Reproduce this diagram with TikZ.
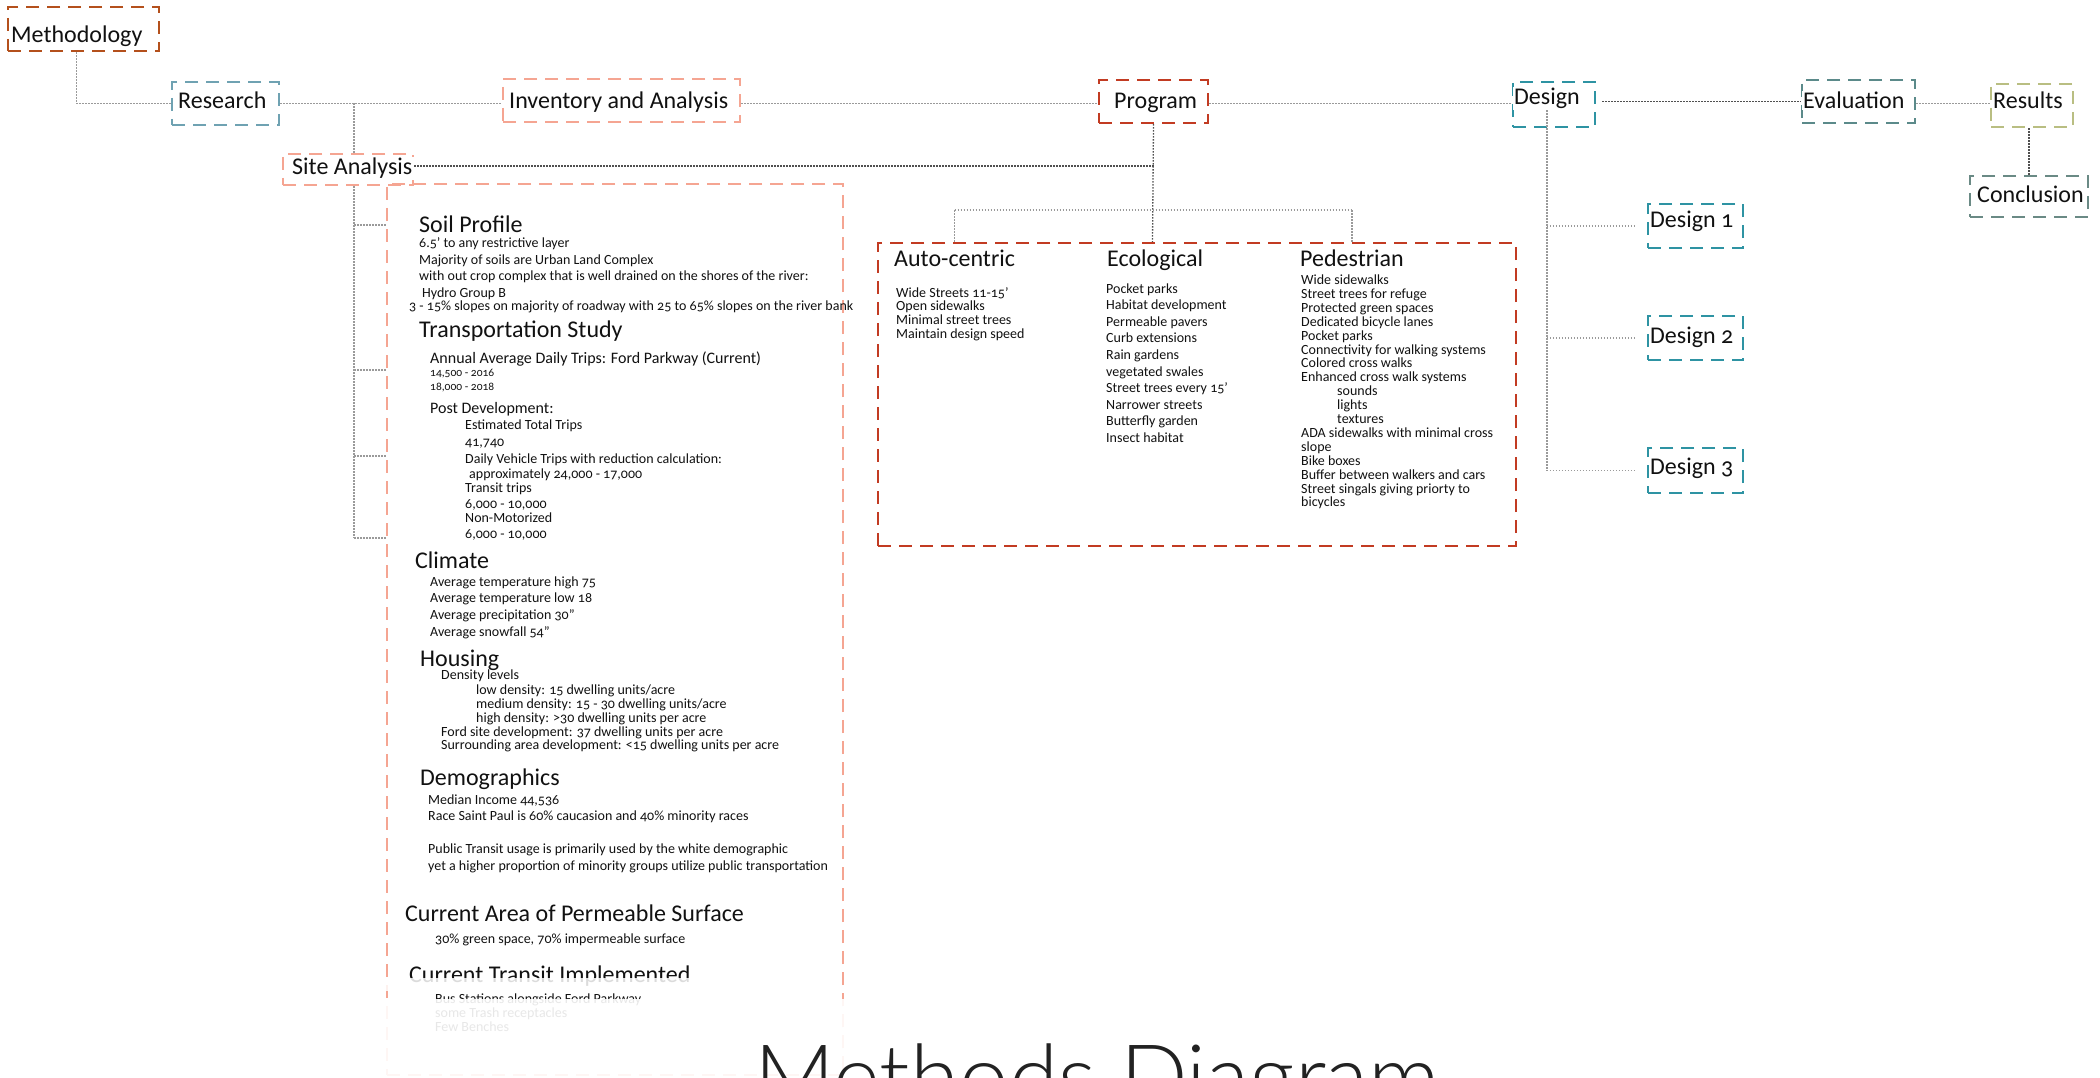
\documentclass[tikz,border=0pt]{standalone}
\usepackage{fontspec}
\setmainfont{Carlito}[Numbers=OldStyle]
\newfontfamily\titlefont{Lato Light}
\usetikzlibrary{calc}

\definecolor{methC}{HTML}{B4501C}
\definecolor{researchC}{HTML}{6FA2B2}
\definecolor{salmonC}{HTML}{F5A592}
\definecolor{progC}{HTML}{C23B22}
\definecolor{designC}{HTML}{2E93A3}
\definecolor{evalC}{HTML}{5B8A8A}
\definecolor{resultsC}{HTML}{B9BE82}
\definecolor{conclC}{HTML}{6A8A85}
\definecolor{lineC}{HTML}{9A9A9A}
\definecolor{darkC}{HTML}{505050}
\definecolor{ink}{HTML}{111111}
\definecolor{titleC}{HTML}{222222}

\begin{document}
\begin{tikzpicture}[x=1pt,y=-1pt,
  box/.style={draw=#1, line width=2.2pt, dash pattern=on 13pt off 8pt, rectangle, inner sep=0pt},
  lbl/.style={anchor=base west, inner xsep=1.5pt, inner ysep=1pt, fill=white, text=ink,
              font=\fontsize{24}{24}\selectfont},
  head/.style={anchor=base west, inner sep=0pt, text=ink, font=\fontsize{24}{24}\selectfont},
  body/.style={anchor=base west, inner sep=0pt, text=ink, font=\fontsize{14}{14}\selectfont},
  mid/.style={body, font=\fontsize{16}{16}\selectfont},
  small/.style={body, font=\fontsize{11.5}{11.5}\selectfont},
  conn/.style={draw=lineC, line width=1.3pt, dash pattern=on 1.5pt off 1.5pt},
  darkconn/.style={conn, draw=darkC},
]
\useasboundingbox (0,0) rectangle (2100,1078);
\fill[white] (0,0) rectangle (2100,1078);

% ---------- boxes ----------
\node[box=methC,     minimum width=151pt, minimum height=44pt] (methodology) at (83.5,29) {};
\node[box=researchC, minimum width=107pt, minimum height=43pt] (research)    at (225.5,103.5) {};
\node[box=salmonC,   minimum width=237pt, minimum height=43pt] (inventory)   at (621.5,100.5) {};
\node[box=progC,     minimum width=109pt, minimum height=43pt] (program)     at (1153.5,101.5) {};
\node[box=designC,   minimum width=82pt,  minimum height=45pt] (design)      at (1554,104.5) {};
\node[box=evalC,     minimum width=113pt, minimum height=43pt] (evaluation)  at (1858.5,101.5) {};
\node[box=resultsC,  minimum width=82pt,  minimum height=43pt] (results)     at (2032,105.5) {};
\node[box=conclC,    minimum width=118pt, minimum height=41pt] (conclusion)  at (2029,196.5) {};
\node[box=salmonC,   minimum width=130pt, minimum height=31pt] (site)        at (348,169.5) {};
\node[box=designC,   minimum width=95pt,  minimum height=44pt] (design1)     at (1695.5,226) {};
\node[box=designC,   minimum width=95pt,  minimum height=44pt] (design2)     at (1695.5,338) {};
\node[box=designC,   minimum width=95pt,  minimum height=45pt] (design3)     at (1695.5,470.5) {};
\node[box=progC,     minimum width=638pt, minimum height=303pt] (progbox)    at (1197,394.5) {};
\node[box=salmonC,   minimum width=456pt, minimum height=891pt] (bigbox)     at (615,629.5) {};

% ---------- box labels ----------
\node[lbl] (methodology-t) at (9.5,43)   {Methodology};
\node[lbl] (research-t)    at (176.5,109) {Research};
\node[lbl] (inventory-t)   at (507.5,109) {Inventory and Analysis};
\node[lbl] (program-t)     at (1112.5,109) {Program};
\node[lbl] (design-t)      at (1512.5,105) {Design};
\node[lbl] (evaluation-t)  at (1801.5,109) {Evaluation};
\node[lbl] (results-t)     at (1991.5,109) {Results};
\node[lbl] (conclusion-t)  at (1975.5,203) {Conclusion};
\node[lbl] (site-t)        at (290.5,175) {Site Analysis};
\node[lbl] (design1-t)     at (1648.5,227) {Design 1};
\node[lbl] (design2-t)     at (1648.5,343) {Design 2};
\node[lbl] (design3-t)     at (1648.5,474) {Design 3};

% ---------- program columns ----------
\node[head] (autoh) at (894,266)  {Auto-centric};
\node[head] (ecoh)  at (1107,266) {Ecological};
\node[head] (pedh)  at (1300,266) {Pedestrian};

\foreach \t [count=\i from 0] in {Wide Streets 11-15’, Open sidewalks, Minimal street trees, Maintain design speed}
  \node[body] (auto-\i) at (896,{297+13.9*\i}) {\t};

\foreach \t [count=\i from 0] in {Pocket parks, Habitat development, Permeable pavers, Curb extensions,
    Rain gardens, vegetated swales, Street trees every 15’, Narrower streets, Butterfly garden, Insect habitat}
  \node[body] (eco-\i) at (1106,{293+16.6*\i}) {\t};

\foreach \d/\t [count=\i from 0] in {0/Wide sidewalks, 0/Street trees for refuge, 0/Protected green spaces,
    0/Dedicated bicycle lanes, 0/Pocket parks, 0/Connectivity for walking systems, 0/Colored cross walks,
    0/Enhanced cross walk systems, 1/sounds, 1/lights, 1/textures, 0/ADA sidewalks with minimal cross,
    0/slope, 0/Bike boxes, 0/Buffer between walkers and cars, 0/Street singals giving priorty to, 0/bicycles}
  \node[body] (ped-\i) at ({1301+36*\d},{284.5+13.9*\i}) {\t};

% ---------- site analysis column ----------
\node[head] (soil-h) at (419,232) {Soil Profile};
\node[body] (soil-1) at (419,247) {6.5’ to any restrictive layer};
\node[body] (soil-2) at (419,264) {Majority of soils are Urban Land Complex};
\node[body] (soil-3) at (419,280) {with out crop complex that is well drained on the shores of the river:};
\node[body] (soil-4) at (422,297) {Hydro Group B};
\node[body] (soil-5) at (409,310) {3 - 15\% slopes on majority of roadway with 25 to 65\% slopes on the river bank};

\node[head]  (trans-h)  at (419,337) {Transportation Study};
\node[mid]   (trans-1)  at (430,363) {Annual Average Daily Trips: Ford Parkway (Current)};
\node[small] (trans-2)  at (430,376) {14,500 - 2016};
\node[small] (trans-3)  at (430,390) {18,000 - 2018};
\node[mid]   (trans-4)  at (430,413) {Post Development:};
\node[body]  (trans-5)  at (465,429) {Estimated Total Trips};
\node[body]  (trans-6)  at (465,446) {41,740};
\node[body]  (trans-7)  at (465,463) {Daily Vehicle Trips with reduction calculation:};
\node[body]  (trans-8)  at (469,478) {approximately 24,000 - 17,000};
\node[body]  (trans-9)  at (465,492) {Transit trips};
\node[body]  (trans-10) at (465,508) {6,000 - 10,000};
\node[body]  (trans-11) at (465,522) {Non-Motorized};
\node[body]  (trans-12) at (465,538) {6,000 - 10,000};

\node[head] (clim-h) at (415,568) {Climate};
\node[body] (clim-1) at (430,586) {Average temperature high 75};
\node[body] (clim-2) at (430,602) {Average temperature low 18};
\node[body] (clim-3) at (430,619) {Average precipitation 30”};
\node[body] (clim-4) at (430,636) {Average snowfall 54”};

\node[head] (hous-h) at (420,666) {Housing};
\node[body] (hous-1) at (441,679) {Density levels};
\node[body] (hous-2) at (476,694) {low density: 15 dwelling units/acre};
\node[body] (hous-3) at (476,708) {medium density: 15 - 30 dwelling units/acre};
\node[body] (hous-4) at (476,722) {high density: >30 dwelling units per acre};
\node[body] (hous-5) at (441,736) {Ford site development: 37 dwelling units per acre};
\node[body] (hous-6) at (441,749) {Surrounding area development: <15 dwelling units per acre};

\node[head] (demo-h) at (420,785) {Demographics};
\node[body] (demo-1) at (428,804) {Median Income 44,536};
\node[body] (demo-2) at (428,820) {Race Saint Paul is 60\% caucasion and 40\% minority races};
\node[body] (demo-3) at (428,853) {Public Transit usage is primarily used by the white demographic};
\node[body] (demo-4) at (428,870) {yet a higher proportion of minority groups utilize public transportation};

\node[head] (perm-h) at (405,921) {Current Area of Permeable Surface};
\node[body] (perm-1) at (435,943) {30\% green space, 70\% impermeable surface};

\node[head] (trn-h) at (409,982)  {Current Transit Implemented};
\node[body] (trn-1) at (435,1003) {Bus Stations alongside Ford Parkway};
\node[body] (trn-2) at (435,1017) {some Trash receptacles};
\node[body] (trn-3) at (435,1031) {Few Benches};

% ---------- connectors ----------
\coordinate (sitecol) at (354,0);
\coordinate (br1) at (354,225);
\coordinate (br2) at (354,370);
\coordinate (br3) at (354,456);
\coordinate (br4) at (354,538);
\coordinate (pj)  at (1152.5,210);

\draw[conn] ([xshift=-7pt]methodology.south) |- (research.west);
\draw[conn] (research.east) -- (research.east -| inventory.west);
\draw[conn] (inventory.east |- research.east) -- (program.west |- research.east);
\draw[conn] (program.east |- research.east) -- (design.west |- research.east);
\draw[darkconn] ([xshift=6pt]design.east |- evaluation.west) -- (evaluation.west);
\draw[conn] (evaluation.east |- research.east) -- (results.west |- research.east);
\draw[darkconn] (results.south -| conclusion.north) -- (conclusion.north);

\draw[conn] (sitecol |- research.east) -- (sitecol |- site.north);
\draw[conn] (sitecol |- site.south) -- (br4);
\foreach \b in {br1,br2,br3,br4}
  \draw[conn] (\b) -- (\b -| bigbox.west);

\draw[darkconn] ([yshift=3.5pt]site.east) -- ([yshift=3.5pt]site.east -| program.south);
\draw[darkconn] (program.south) -- (pj |- progbox.north);
\draw[conn] (pj -| autoh) -- (pj -| pedh);
\draw[conn] (pj -| autoh) -- (autoh |- progbox.north);
\draw[conn] (pj -| pedh) -- (pedh |- progbox.north);

\draw[conn] (design-t.south) -- (design-t.south |- design3.west);
\foreach \d in {design1,design2,design3}
  \draw[conn] (design-t.south |- \d.west) -- ([xshift=-12pt]\d.west);

% ---------- fading toward the bottom ----------
\fill[white, opacity=0.85] (380,978) rectangle (720,991);
\fill[white, opacity=0.9] (0,999) rectangle (2100,1078);

% ---------- title ----------
\node[anchor=base west, inner sep=0pt, text=titleC, font=\titlefont\fontsize{89}{89}\selectfont]
  (title) at (754,1108) {Methods Diagram};
\end{tikzpicture}
\end{document}
